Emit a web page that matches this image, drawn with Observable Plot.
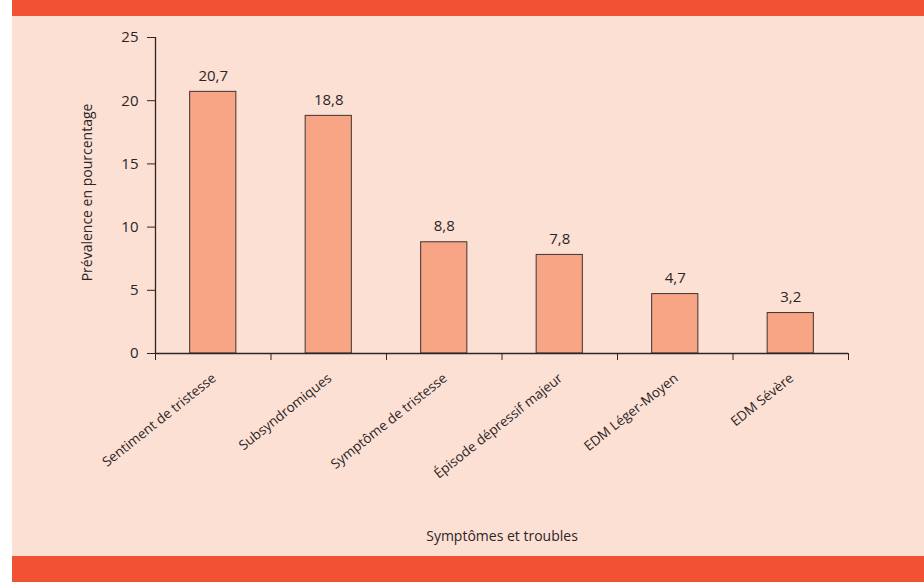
<!DOCTYPE html>
<html>
<head>
<meta charset="utf-8">
<script src="https://cdn.jsdelivr.net/npm/d3@7"></script>
<script src="https://cdn.jsdelivr.net/npm/@observablehq/plot@0.6"></script>
<style>
  html, body { margin: 0; padding: 0; background: #ffffff; }
  #wrap { position: absolute; left: 12px; top: 0; width: 912px; }
  #head { height: 16px; background: #f05233; }
  #chart { background: #fde0d4; height: 540px; }
  #chart svg { display: block; }
  #foot { height: 26px; background: #f05233; }
</style>
</head>
<body>
<div id="wrap">
  <div id="head"></div>
  <div id="chart"></div>
  <div id="foot"></div>
</div>
<script>
const categories = [
  "Sentiment de tristesse",
  "Subsyndromiques",
  "Symptôme de tristesse",
  "Épisode dépressif majeur",
  "EDM Léger-Moyen",
  "EDM Sévère"
];
const values = [20.7, 18.8, 8.8, 7.8, 4.7, 3.2];
const yTicks = [0, 5, 10, 15, 20, 25];
const yLabel = "Prévalence en pourcentage";
const xLabel = "Symptômes et troubles";

const data = categories.map((c, i) => ({i, category: c, value: values[i]}));
const boundaries = d3.range(categories.length + 1);
const fmt = v => d3.format(".1f")(v).replace(".", ",");
const ink = "#2b2526";
const font = "'Open Sans', 'Noto Sans', sans-serif";

const chart = Plot.plot({
  width: 912,
  height: 540,
  marginLeft: 143,
  marginRight: 76,
  marginTop: 21,
  marginBottom: 203,
  style: {background: "transparent", fontFamily: font, color: ink, overflow: "visible"},
  x: {domain: [0, categories.length], axis: null},
  y: {domain: [0, 25], axis: null},
  marks: [
    Plot.rectY(data, {
      x1: d => d.i + 0.3, x2: d => d.i + 0.7, y: "value",
      fill: "#f7a585", stroke: "#3d3333", strokeWidth: 1
    }),
    Plot.ruleX([0], {y1: 0, y2: 25, stroke: ink, strokeWidth: 1.3}),
    Plot.ruleY([0], {stroke: ink, strokeWidth: 1.3}),
    Plot.axisY({
      ticks: yTicks, tickSize: 8, tickPadding: 9, fontSize: 15,
      stroke: ink, fill: ink, label: null, tickFormat: d => String(d)
    }),
    Plot.axisX({
      ticks: boundaries, tickSize: 7, tickFormat: () => "", label: null, stroke: ink
    }),
    Plot.text(data, {
      x: d => d.i + 0.5, y: "value", text: d => fmt(d.value),
      dy: -16, fontSize: 15, fill: ink
    }),
    Plot.text(data, {
      x: d => d.i + 0.5, y: 0, text: "category",
      rotate: -38.5, textAnchor: "end", dx: 1, dy: 23, fontSize: 13.5, fill: ink
    }),
    Plot.text([yLabel], {
      frameAnchor: "left", textAnchor: "middle", rotate: -90, dx: -68, dy: -3, fontSize: 14, fill: ink
    }),
    Plot.text([xLabel], {
      frameAnchor: "bottom", dy: 187, fontSize: 14, fill: ink
    })
  ]
});
document.getElementById("chart").appendChild(chart);
</script>
</body>
</html>
